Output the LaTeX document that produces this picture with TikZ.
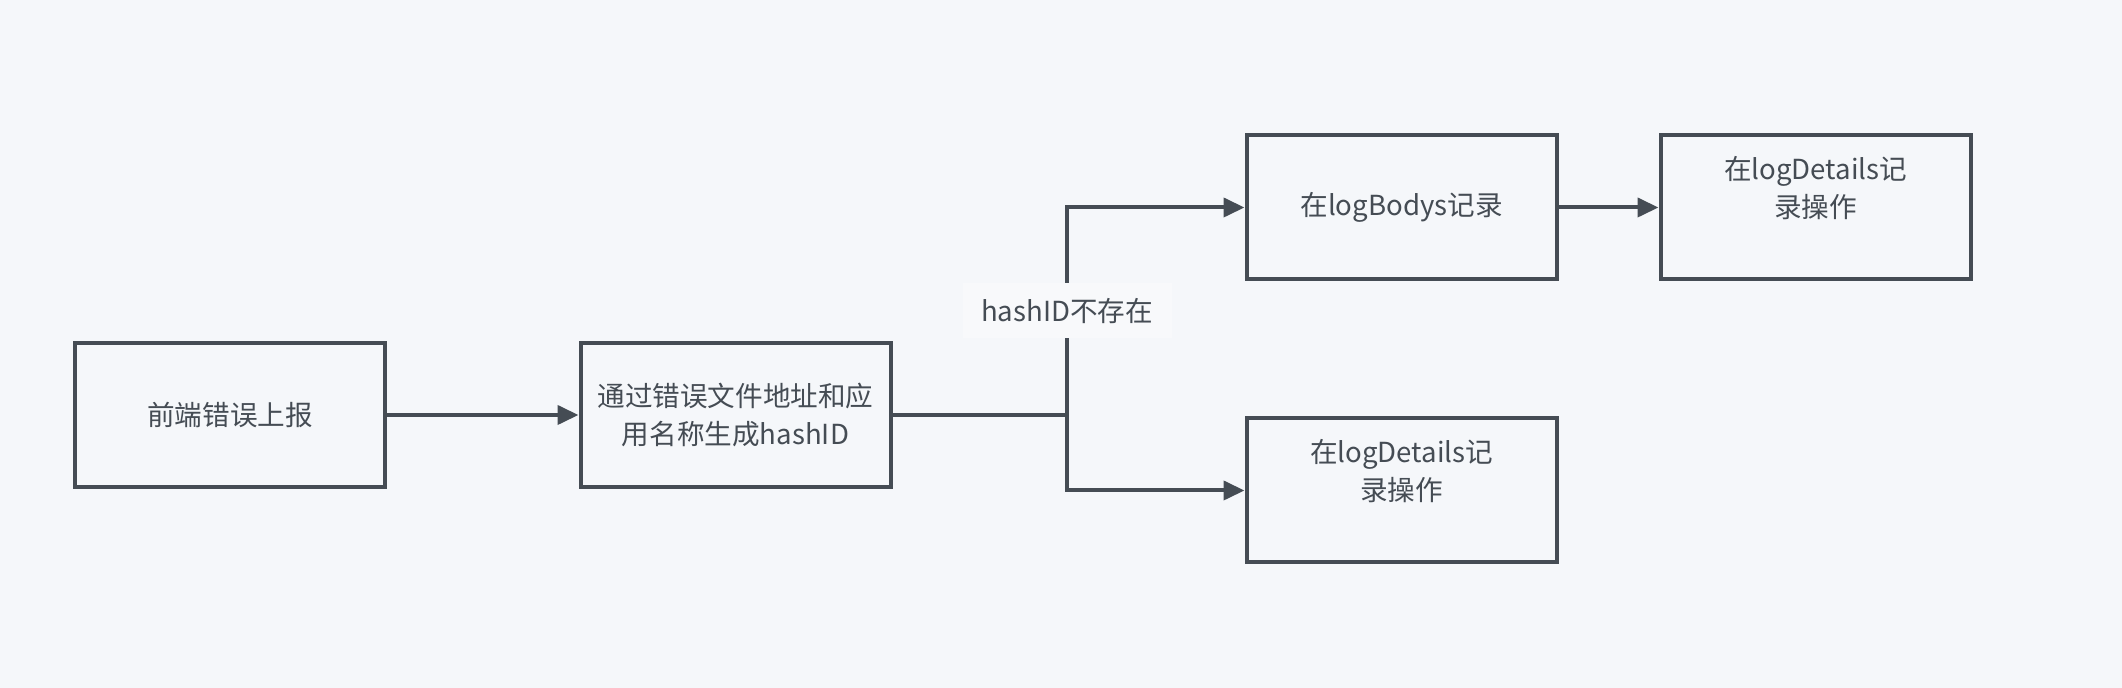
\documentclass[tikz,border=0pt]{standalone}
\usepackage{fontspec}
\setmainfont{Noto Sans CJK SC}
\usetikzlibrary{arrows.meta}
\definecolor{bgc}{HTML}{F5F7FA}
\definecolor{ink}{HTML}{454C54}
\definecolor{labbg}{HTML}{F8F9FB}
\tikzset{
  box/.style={draw=ink, line width=2pt, minimum width=155pt, minimum height=72pt,
    inner sep=0pt, align=center, text=ink, font=\fontsize{13.8}{19}\selectfont},
  conn/.style={draw=ink, line width=2pt},
  arr/.style={conn, -{Triangle[length=10.5pt,width=9.5pt]}},
  lab/.style={fill=labbg, text=ink, minimum width=104.5pt, minimum height=27.5pt,
    inner sep=0pt, font=\fontsize{13.8}{19}\selectfont}
}
\begin{document}
\begin{tikzpicture}[x=0.5pt,y=-0.5pt]
\fill[bgc] (0,0) rectangle (2122,688);
\useasboundingbox (0,0) rectangle (2122,688);
\node[box] (b1) at (230,415) {前端错误上报};
\node[box] (b2) at (735.5,415) {通过错误文件地址和应\\用名称生成hashID};
\node[box] (b3) at (1401.5,207.5) {在logBodys记录};
\node[box] (b4) at (1815.5,207.5) {在logDetails记\\录操作\\[-4pt]\strut};
\node[box] (b5) at (1401.5,490.5) {在logDetails记\\录操作\\[-4pt]\strut};
\coordinate (sp) at (1067,415);
\draw[arr] (b1) -- (b2);
\draw[conn] (b2.east) -- (sp);
\draw[arr] (sp) |- (b3.west);
\draw[arr] (sp) |- (b5.west);
\draw[arr] (b3) -- (b4);
\node[lab] (l1) at (1067,311) {hashID不存在};
\end{tikzpicture}
\end{document}
